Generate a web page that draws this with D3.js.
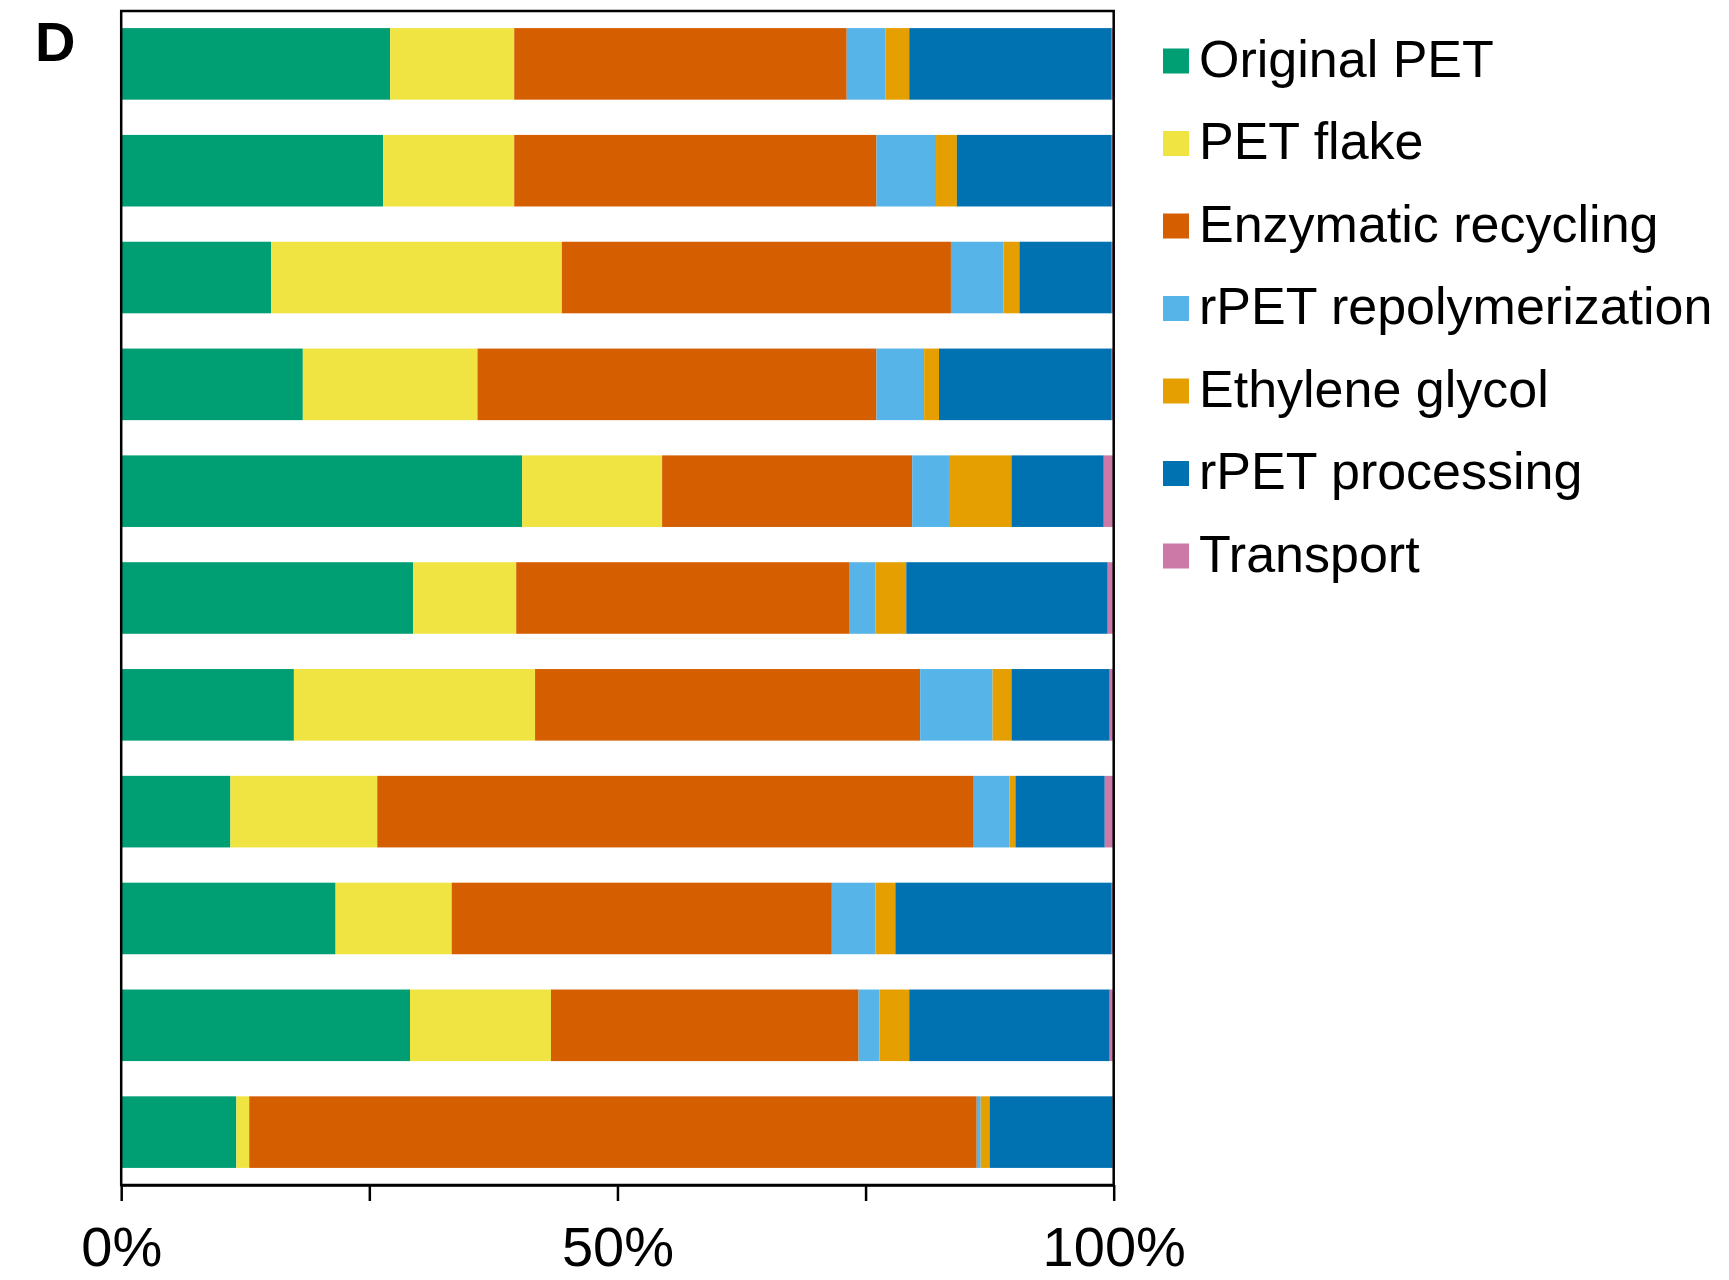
<!DOCTYPE html>
<html>
<head>
<meta charset="utf-8">
<script src="https://cdn.jsdelivr.net/npm/d3@7"></script>
<style>
  body { margin: 0; background: #ffffff; }
  svg { display: block; font-family: "Liberation Sans", Arial, Helvetica, sans-serif; }
</style>
</head>
<body>
<svg id="chart" width="1729" height="1280"></svg>
<script>
// Scenarios, top to bottom
const categories = ["S1", "S2", "S3", "S4", "S5", "S6", "S7", "S8", "S9", "S10", "S11"];

// Contribution of each stage (% of total)
const seriesNames = ["Original PET", "PET flake", "Enzymatic recycling", "rPET repolymerization",
                     "Ethylene glycol", "rPET processing", "Transport"];
const originalPET          = [27.1, 26.4, 15.1, 18.3, 40.4, 29.4, 17.4, 11.0, 21.6, 29.1, 11.6];
const petFlake             = [12.5, 13.2, 29.3, 17.6, 14.1, 10.4, 24.3, 14.8, 11.7, 14.2, 1.3];
const enzymaticRecycling   = [33.5, 36.5, 39.2, 40.2, 25.2, 33.6, 38.8, 60.1, 38.3, 31.0, 73.3];
const rpetRepolymerization = [3.9, 6.0, 5.3, 4.8, 3.8, 2.6, 7.3, 3.6, 4.4, 2.1, 0.4];
const ethyleneGlycol       = [2.4, 2.1, 1.6, 1.5, 6.2, 3.1, 1.9, 0.6, 2.0, 3.0, 0.9];
const rpetProcessing       = [20.4, 15.6, 9.3, 17.4, 9.3, 20.3, 9.9, 9.0, 21.8, 20.2, 12.4];
const transport            = [0.2, 0.2, 0.2, 0.2, 1.0, 0.6, 0.4, 0.9, 0.2, 0.4, 0.1];

const tickValues = [0, 25, 50, 75, 100];
const tickLabels = ["0%", "", "50%", "", "100%"];
const colors = ["#009E73", "#F0E442", "#D55E00", "#56B4E9", "#E69F00", "#0072B2", "#CC79A7"];

const seriesValues = [originalPET, petFlake, enzymaticRecycling, rpetRepolymerization,
                      ethyleneGlycol, rpetProcessing, transport];
const rows = categories.map((c, i) => {
  const r = { category: c };
  seriesNames.forEach((s, k) => { r[s] = seriesValues[k][i]; });
  return r;
});

const svg = d3.select("#chart");
const plot = { left: 121.2, right: 1113.7, top: 11, bottom: 1185 };

const x = d3.scaleLinear().domain([0, 100]).range([plot.left, plot.right]);
const y = d3.scaleBand().domain(categories).range([plot.top, plot.bottom])
  .paddingInner(0.33).paddingOuter(0.16);
const color = d3.scaleOrdinal().domain(seriesNames).range(colors);

const stacked = d3.stack().keys(seriesNames)(rows);

// Stacked bars
svg.append("g").selectAll("g")
  .data(stacked)
  .join("g")
    .attr("fill", d => color(d.key))
  .selectAll("rect")
  .data(d => d)
  .join("rect")
    .attr("x", d => x(d[0]))
    .attr("y", d => y(d.data.category))
    .attr("width", d => Math.max(0, x(d[1]) - x(d[0])))
    .attr("height", y.bandwidth());

// Plot frame
svg.append("rect")
  .attr("x", plot.left).attr("y", plot.top)
  .attr("width", plot.right - plot.left).attr("height", plot.bottom - plot.top)
  .attr("fill", "none").attr("stroke", "#000").attr("stroke-width", 2.5);

// Bottom percentage axis
const xAxis = svg.append("g")
  .attr("transform", `translate(0,${plot.bottom})`)
  .call(d3.axisBottom(x).tickValues(tickValues)
    .tickFormat((d, i) => tickLabels[i])
    .tickSize(16).tickSizeOuter(0).tickPadding(25));
xAxis.select(".domain").attr("stroke", "#000").attr("stroke-width", 2.5);
xAxis.selectAll(".tick line").attr("stroke", "#000").attr("stroke-width", 2.5);
xAxis.selectAll(".tick text")
  .attr("fill", "#000")
  .style("font-family", "'Liberation Sans', Arial, sans-serif")
  .style("font-size", "56px");

// Panel letter
svg.append("text")
  .attr("x", 35).attr("y", 61)
  .attr("font-size", 56).attr("font-weight", "bold").attr("fill", "#000")
  .text("D");

// Legend
const legend = svg.append("g").attr("transform", "translate(1163,61)");
const item = legend.selectAll("g")
  .data(seriesNames)
  .join("g")
    .attr("transform", (d, i) => `translate(0,${i * 82.5})`);
item.append("rect")
  .attr("x", 0).attr("y", -12.5)
  .attr("width", 26).attr("height", 25)
  .attr("fill", d => color(d));
item.append("text")
  .attr("x", 36).attr("y", 15.5)
  .attr("font-size", 52).attr("fill", "#000")
  .text(d => d);
</script>
</body>
</html>
